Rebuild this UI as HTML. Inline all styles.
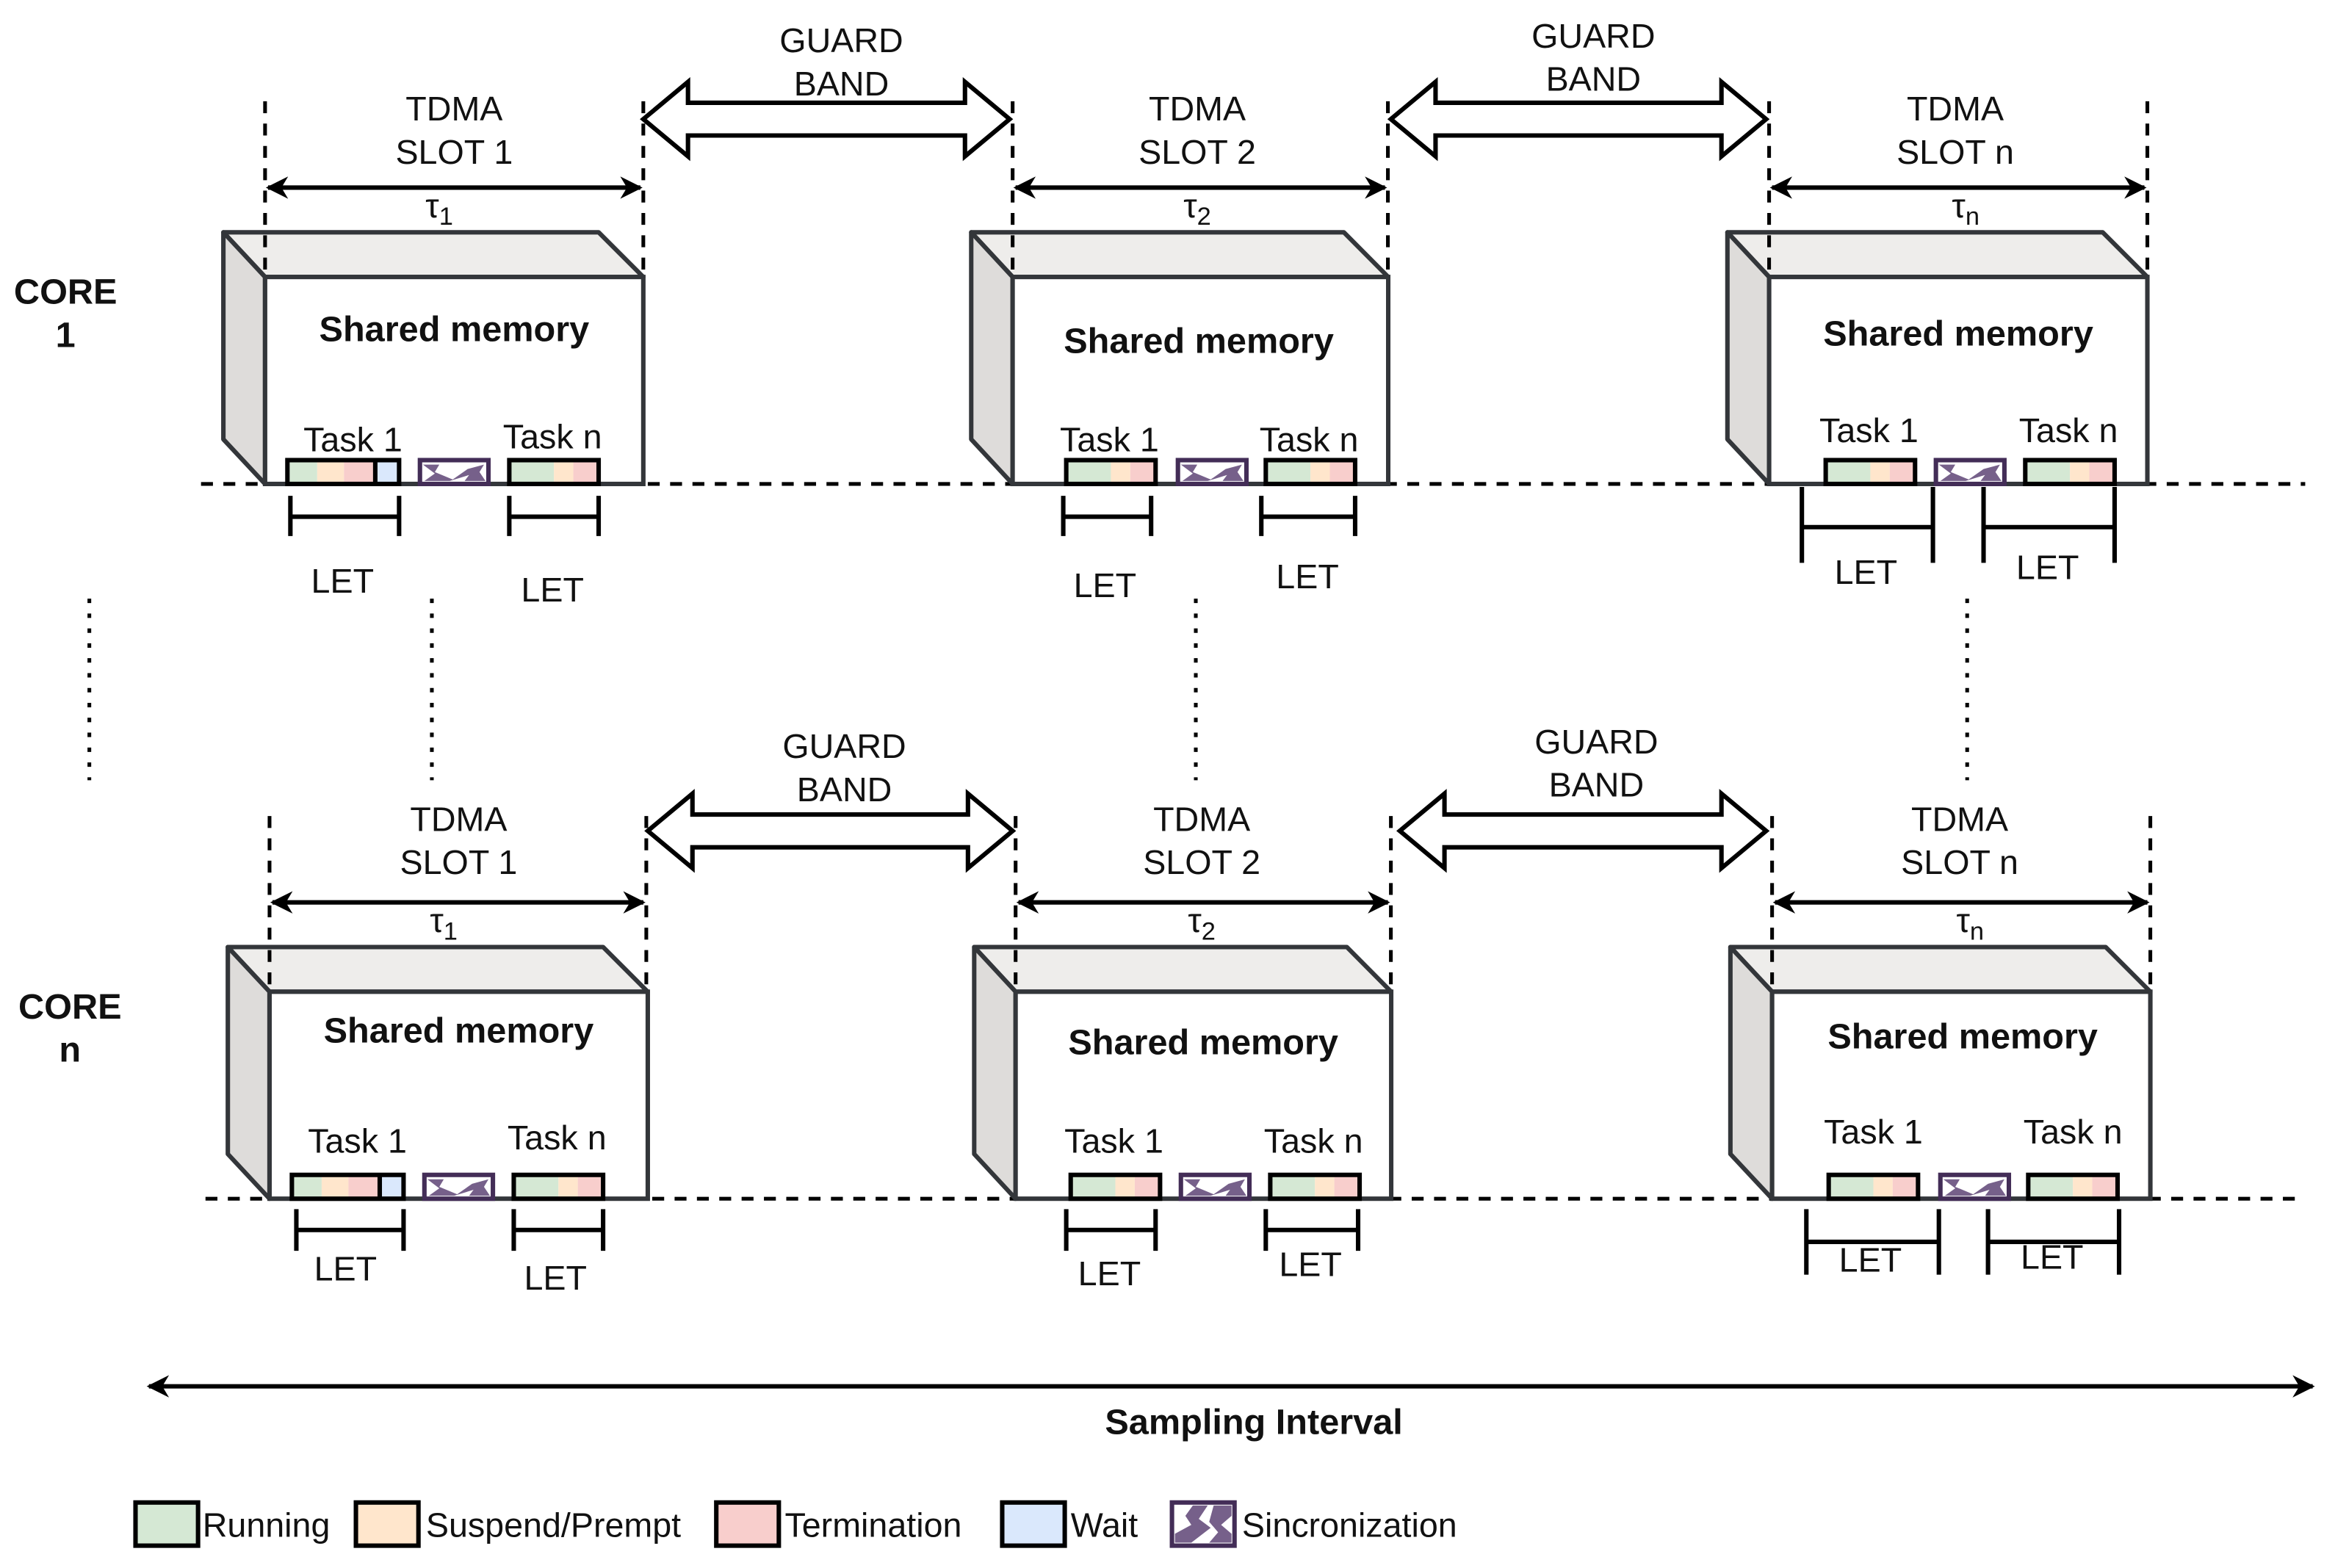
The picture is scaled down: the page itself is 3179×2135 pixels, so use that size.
<!DOCTYPE html>
<html><head><meta charset="utf-8"><style>
html,body{margin:0;padding:0;background:#fff;}
svg{display:block;}
text{font-family:"Liberation Sans",sans-serif;fill:#111;}
.t{font-size:23px;text-anchor:middle;}
.b{font-size:24px;font-weight:bold;text-anchor:middle;}
.l{font-size:23px;}
</style></head><body>
<svg width="3179" height="2135" viewBox="0 0 1568 1053" preserveAspectRatio="none" xmlns="http://www.w3.org/2000/svg">
<defs>
<marker id="ah" viewBox="0 0 10 10" refX="9" refY="5" markerWidth="5" markerHeight="5" orient="auto-start-reverse"><path d="M0,0 L10,5 L0,10 L3,5 Z" fill="#000"/></marker>
<g id="blk">
 <polygon points="-28,-169 224,-169 254,-139 0,-139" fill="#eeedeb" stroke="#33363a" stroke-width="3" stroke-linejoin="round"/>
 <polygon points="-28,-169 0,-139 0,0 -28,-30" fill="#dedcda" stroke="#33363a" stroke-width="3" stroke-linejoin="round"/>
 <rect x="0" y="-139" width="254" height="139" fill="#fff" stroke="#33363a" stroke-width="3"/>
</g>
<g id="bar4">
 <rect x="0" y="0" width="20" height="16" fill="#d5e8d4"/><rect x="20" y="0" width="18" height="16" fill="#ffe6cc"/><rect x="38" y="0" width="21" height="16" fill="#f8cecc"/><rect x="59" y="0" width="16" height="16" fill="#dae8fc"/>
 <line x1="59" y1="0" x2="59" y2="16" stroke="#000" stroke-width="3"/>
 <rect x="0" y="0" width="75" height="16" fill="none" stroke="#000" stroke-width="3"/>
</g>
<g id="bar3">
 <rect x="0" y="0" width="30" height="16" fill="#d5e8d4"/><rect x="30" y="0" width="13" height="16" fill="#ffe6cc"/><rect x="43" y="0" width="17" height="16" fill="#f8cecc"/>
 <rect x="0" y="0" width="60" height="16" fill="none" stroke="#000" stroke-width="3"/>
</g>
<g id="sync">
 <rect x="0" y="0" width="46" height="16" fill="#fff"/>
 <path d="M2,3 L13,3 L10,8 L22,13 L32,6 L43,3 L40,8 L44,14 L30,14 L33,10 L20,14 L3,14 L10,9 Z" fill="#76608a"/>
 <rect x="0" y="0" width="46" height="16" fill="none" stroke="#432d57" stroke-width="3"/>
</g>
</defs>

<g stroke="#000" stroke-width="2.5" stroke-dasharray="8 7" fill="none">
 <line x1="135" y1="325" x2="1548" y2="325"/>
 <line x1="138" y1="805" x2="1548" y2="805"/>
</g>

<!-- blocks -->
<use href="#blk" transform="translate(178,325)"/>
<use href="#blk" transform="translate(680,325) scale(0.993,1)"/>
<use href="#blk" transform="translate(1188,325)"/>
<use href="#blk" transform="translate(181,805)"/>
<use href="#blk" transform="translate(682,805) scale(0.993,1)"/>
<use href="#blk" transform="translate(1190,805)"/>

<g stroke="#000" stroke-width="2.5" stroke-dasharray="8 7" fill="none">
 <line x1="178" y1="68" x2="178" y2="186"/><line x1="432" y1="68" x2="432" y2="186"/>
 <line x1="680" y1="68" x2="680" y2="186"/><line x1="932" y1="68" x2="932" y2="186"/>
 <line x1="1188" y1="68" x2="1188" y2="186"/><line x1="1442" y1="68" x2="1442" y2="186"/>
 <line x1="181" y1="548" x2="181" y2="666"/><line x1="434" y1="548" x2="434" y2="666"/>
 <line x1="682" y1="548" x2="682" y2="666"/><line x1="934" y1="548" x2="934" y2="666"/>
 <line x1="1190" y1="548" x2="1190" y2="666"/><line x1="1444" y1="548" x2="1444" y2="666"/>
</g>
<g stroke="#000" stroke-width="2.5" stroke-dasharray="3 7" fill="none">
 <line x1="60" y1="402" x2="60" y2="524"/><line x1="290" y1="402" x2="290" y2="524"/>
 <line x1="803" y1="402" x2="803" y2="524"/><line x1="1321" y1="402" x2="1321" y2="524"/>
</g>

<!-- tau arrows -->
<g stroke="#000" stroke-width="3" marker-start="url(#ah)" marker-end="url(#ah)">
 <line x1="180" y1="126" x2="430" y2="126"/><line x1="682" y1="126" x2="930" y2="126"/><line x1="1190" y1="126" x2="1440" y2="126"/>
 <line x1="183" y1="606" x2="432" y2="606"/><line x1="684" y1="606" x2="932" y2="606"/><line x1="1192" y1="606" x2="1442" y2="606"/>
 <line x1="100" y1="931" x2="1553" y2="931"/>
</g>

<!-- guard band arrows -->
<g fill="#fff" stroke="#000" stroke-width="3" stroke-linejoin="miter">
 <path d="M432,80 L462,55 L462,69 L648,69 L648,55 L678,80 L648,105 L648,91 L462,91 L462,105 Z"/>
 <path d="M934,80 L964,55 L964,69 L1156,69 L1156,55 L1186,80 L1156,105 L1156,91 L964,91 L964,105 Z"/>
 <path d="M435,558 L465,533 L465,547 L650,547 L650,533 L680,558 L650,583 L650,569 L465,569 L465,583 Z"/>
 <path d="M940,558 L970,533 L970,547 L1156,547 L1156,533 L1186,558 L1156,583 L1156,569 L970,569 L970,583 Z"/>
</g>

<!-- task bars -->
<use href="#bar4" x="193" y="309"/><use href="#sync" x="282" y="309"/><use href="#bar3" x="342" y="309"/>
<use href="#bar3" x="716" y="309"/><use href="#sync" x="791" y="309"/><use href="#bar3" x="850" y="309"/>
<use href="#bar3" x="1226" y="309"/><use href="#sync" x="1300" y="309"/><use href="#bar3" x="1360" y="309"/>
<use href="#bar4" x="196" y="789"/><use href="#sync" x="285" y="789"/><use href="#bar3" x="345" y="789"/>
<use href="#bar3" x="719" y="789"/><use href="#sync" x="793" y="789"/><use href="#bar3" x="853" y="789"/>
<use href="#bar3" x="1228" y="789"/><use href="#sync" x="1303" y="789"/><use href="#bar3" x="1362" y="789"/>

<!-- LET brackets -->
<g stroke="#000" stroke-width="3" fill="none">
 <path d="M195,333 v27 M195,347 H268 M268,333 v27"/>
 <path d="M342,333 v27 M342,347 H402 M402,333 v27"/>
 <path d="M714,333 v27 M714,347 H773 M773,333 v27"/>
 <path d="M847,333 v27 M847,347 H910 M910,333 v27"/>
 <path d="M1210,327 v51 M1210,354 H1298 M1298,327 v51"/>
 <path d="M1332,327 v51 M1332,354 H1420 M1420,327 v51"/>
 <path d="M199,812 v28 M199,826 H271 M271,812 v28"/>
 <path d="M345,812 v28 M345,826 H405 M405,812 v28"/>
 <path d="M716,812 v28 M716,826 H776 M776,812 v28"/>
 <path d="M850,812 v28 M850,826 H912 M912,812 v28"/>
 <path d="M1213,812 v44 M1213,834 H1302 M1302,812 v44"/>
 <path d="M1335,812 v44 M1335,834 H1423 M1423,812 v44"/>
</g>

<!-- labels row 1 -->
<text class="t" x="305" y="81">TDMA</text><text class="t" x="305" y="110">SLOT 1</text>
<text class="t" x="804" y="81">TDMA</text><text class="t" x="804" y="110">SLOT 2</text>
<text class="t" x="1313" y="81">TDMA</text><text class="t" x="1313" y="110">SLOT n</text>
<text class="t" x="565" y="35">GUARD</text><text class="t" x="565" y="64">BAND</text>
<text class="t" x="1070" y="32">GUARD</text><text class="t" x="1070" y="61">BAND</text>
<text class="t" x="295" y="146">τ<tspan font-size="17" dy="5">1</tspan></text>
<text class="t" x="804" y="146">τ<tspan font-size="17" dy="5">2</tspan></text>
<text class="t" x="1320" y="146">τ<tspan font-size="17" dy="5">n</tspan></text>
<text class="b" x="305" y="229">Shared memory</text>
<text class="b" x="805" y="237">Shared memory</text>
<text class="b" x="1315" y="232">Shared memory</text>
<text class="t" x="237" y="303">Task 1</text><text class="t" x="371" y="301">Task n</text>
<text class="t" x="745" y="303">Task 1</text><text class="t" x="879" y="303">Task n</text>
<text class="t" x="1255" y="297">Task 1</text><text class="t" x="1389" y="297">Task n</text>
<text class="t" x="230" y="398">LET</text><text class="t" x="371" y="404">LET</text>
<text class="t" x="742" y="401">LET</text><text class="t" x="878" y="395">LET</text>
<text class="t" x="1253" y="392">LET</text><text class="t" x="1375" y="389">LET</text>
<text class="b" x="44" y="204">CORE</text><text class="b" x="44" y="233">1</text>

<!-- labels row 2 -->
<text class="t" x="308" y="558">TDMA</text><text class="t" x="308" y="587">SLOT 1</text>
<text class="t" x="807" y="558">TDMA</text><text class="t" x="807" y="587">SLOT 2</text>
<text class="t" x="1316" y="558">TDMA</text><text class="t" x="1316" y="587">SLOT n</text>
<text class="t" x="567" y="509">GUARD</text><text class="t" x="567" y="538">BAND</text>
<text class="t" x="1072" y="506">GUARD</text><text class="t" x="1072" y="535">BAND</text>
<text class="t" x="298" y="626">τ<tspan font-size="17" dy="5">1</tspan></text>
<text class="t" x="807" y="626">τ<tspan font-size="17" dy="5">2</tspan></text>
<text class="t" x="1323" y="626">τ<tspan font-size="17" dy="5">n</tspan></text>
<text class="b" x="308" y="700">Shared memory</text>
<text class="b" x="808" y="708">Shared memory</text>
<text class="b" x="1318" y="704">Shared memory</text>
<text class="t" x="240" y="774">Task 1</text><text class="t" x="374" y="772">Task n</text>
<text class="t" x="748" y="774">Task 1</text><text class="t" x="882" y="774">Task n</text>
<text class="t" x="1258" y="768">Task 1</text><text class="t" x="1392" y="768">Task n</text>
<text class="t" x="232" y="860">LET</text><text class="t" x="373" y="866">LET</text>
<text class="t" x="745" y="863">LET</text><text class="t" x="880" y="857">LET</text>
<text class="t" x="1256" y="854">LET</text><text class="t" x="1378" y="852">LET</text>
<text class="b" x="47" y="684">CORE</text><text class="b" x="47" y="713">n</text>

<text class="b" x="842" y="963">Sampling Interval</text>

<!-- legend -->
<g stroke-width="3">
 <rect x="91" y="1009" width="42" height="29" fill="#d5e8d4" stroke="#000"/>
 <rect x="239" y="1009" width="42" height="29" fill="#ffe6cc" stroke="#000"/>
 <rect x="481" y="1009" width="42" height="29" fill="#f8cecc" stroke="#000"/>
 <rect x="673" y="1009" width="42" height="29" fill="#dae8fc" stroke="#000"/>
 <rect x="787" y="1009" width="42" height="29" fill="#fff" stroke="#432d57"/>
</g>
<path d="M801,1011 L811,1011 L805,1020 L813,1026 L800,1036 L789,1036 L789,1030 L800,1024 L796,1018 Z M815,1011 L827,1011 L827,1018 L820,1024 L827,1030 L827,1036 L812,1036 L818,1029 L812,1022 Z" fill="#76608a"/>
<text class="l" x="136" y="1032">Running</text>
<text class="l" x="286" y="1032">Suspend/Prempt</text>
<text class="l" x="527" y="1032">Termination</text>
<text class="l" x="719" y="1032">Wait</text>
<text class="l" x="834" y="1032">Sincronization</text>
</svg>
</body></html>
